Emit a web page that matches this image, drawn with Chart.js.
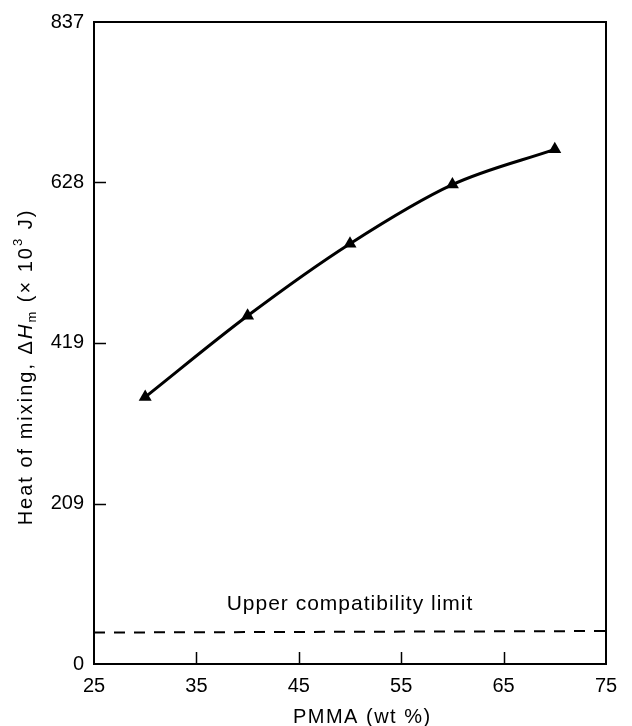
<!DOCTYPE html>
<html>
<head>
<meta charset="utf-8">
<script src="https://cdn.jsdelivr.net/npm/chart.js@4.4.1/dist/chart.umd.min.js"></script>
<style>
  html, body { margin: 0; padding: 0; background: #fff; }
  #wrap { width: 632px; height: 726px; position: relative; }
</style>
</head>
<body>
<div id="wrap"><canvas id="heat"></canvas></div>
<script>
// PMMA content (wt %) and heat of mixing (x10^3 J)
var pmma = [30, 40, 50, 60, 70];
var heatMix = [348, 454, 548, 625, 671];

// upper compatibility limit, drawn as a dashed line across the plot
var limitX = [25, 75];
var limitY = [41, 43];

var yTicks = [0, 209, 419, 628, 837];
var xTicks = [25, 35, 45, 55, 65, 75];

var FONT = '"Liberation Sans", Arial, Helvetica, sans-serif';

// frame, inward ticks and the text that Chart.js can't format (italic / sub / sup)
var decor = {
    id: 'decor',
    afterDraw: function (chart) {
        var c = chart.ctx, a = chart.chartArea;
        var xs = chart.scales.x, ys = chart.scales.y;
        c.save();
        c.strokeStyle = '#000';
        c.lineWidth = 2;
        c.strokeRect(a.left, a.top, a.right - a.left, a.bottom - a.top);

        c.lineWidth = 1.5;
        c.beginPath();
        xTicks.slice(1, -1).forEach(function (v) {
            var px = Math.round(xs.getPixelForValue(v)) + 0.5;
            c.moveTo(px, a.bottom);
            c.lineTo(px, a.bottom - 12);
        });
        yTicks.slice(1, -1).forEach(function (v) {
            var py = Math.round(ys.getPixelForValue(v)) + 0.5;
            c.moveTo(a.left, py);
            c.lineTo(a.left + 12, py);
        });
        c.stroke();

        c.fillStyle = '#000';
        c.textBaseline = 'middle';
        c.textAlign = 'center';
        c.letterSpacing = '1px';
        c.font = '21px ' + FONT;
        c.fillText('Upper compatibility limit', xs.getPixelForValue(50), ys.getPixelForValue(78));

        c.font = '20px ' + FONT;
        c.letterSpacing = '1.5px';
        c.fillText('PMMA (wt %)', xs.getPixelForValue(51.2), 717);

        // rotated y title built from pieces
        c.letterSpacing = '2px';
        var parts = [
            { t: 'Heat of mixing, \u0394', f: '20px ' + FONT, dy: 0 },
            { t: 'H', f: 'italic 20px ' + FONT, dy: 0 },
            { t: 'm', f: '13px ' + FONT, dy: 6 },
            { t: ' (\u00d7 ', f: '20px ' + FONT, dy: 0 },
            { t: '10', f: '20px ' + FONT, dy: 0 },
            { t: '3', f: '13px ' + FONT, dy: -8 },
            { t: ' J)', f: '20px ' + FONT, dy: 0 }
        ];
        var total = 0;
        parts.forEach(function (p) { c.font = p.f; p.w = c.measureText(p.t).width; total += p.w; });
        c.translate(26, 367);
        c.rotate(-Math.PI / 2);
        c.textAlign = 'left';
        var x = -total / 2;
        parts.forEach(function (p) {
            c.font = p.f;
            c.fillText(p.t, x, p.dy);
            x += p.w;
        });
        c.restore();
    }
};

new Chart(document.getElementById('heat'), {
    type: 'scatter',
    data: {
        datasets: [{
            data: pmma.map(function (x, i) { return { x: x, y: heatMix[i] }; }),
            showLine: true,
            borderColor: '#000',
            backgroundColor: '#000',
            borderWidth: 3,
            cubicInterpolationMode: 'monotone',
            pointStyle: 'triangle',
            pointRadius: 7.5,
            pointBorderWidth: 0
        }, {
            data: limitX.map(function (x, i) { return { x: x, y: limitY[i] }; }),
            showLine: true,
            borderColor: '#000',
            borderWidth: 2,
            borderDash: [11, 9],
            pointRadius: 0
        }]
    },
    options: {
        responsive: true,
        maintainAspectRatio: false,
        animation: false,
        layout: { padding: { left: 0, right: 26, top: 19, bottom: 0 } },
        plugins: { legend: { display: false }, tooltip: { enabled: false } },
        scales: {
            x: {
                type: 'linear',
                min: 25, max: 75,
                afterBuildTicks: function (s) { s.ticks = xTicks.map(function (v) { return { value: v }; }); },
                afterFit: function (s) { s.height = 62; },
                grid: { display: false, drawTicks: false },
                border: { display: false },
                ticks: { color: '#000', font: { family: FONT, size: 20 }, padding: 10, maxRotation: 0 }
            },
            y: {
                min: 0, max: 837,
                afterBuildTicks: function (s) { s.ticks = yTicks.map(function (v) { return { value: v }; }); },
                afterFit: function (s) { s.width = 94; },
                grid: { display: false, drawTicks: false },
                border: { display: false },
                ticks: { color: '#000', font: { family: FONT, size: 20 }, padding: 10 }
            }
        }
    },
    plugins: [decor]
});
</script>
</body>
</html>
